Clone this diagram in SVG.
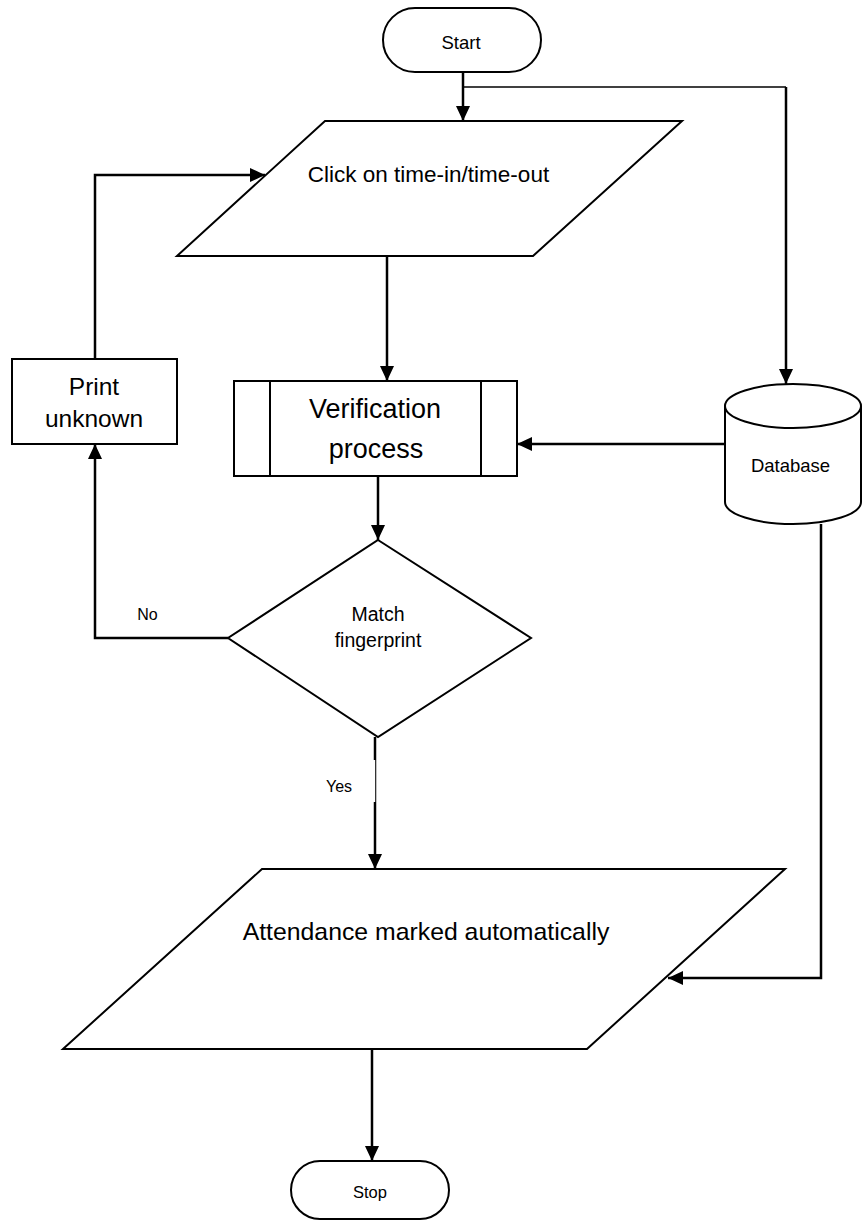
<svg xmlns="http://www.w3.org/2000/svg" width="863" height="1222" viewBox="0 0 863 1222">
  <defs>
    <marker id="arrow" markerUnits="userSpaceOnUse" markerWidth="15" markerHeight="14" refX="15" refY="7" orient="auto">
      <path d="M0,0 L15,7 L0,14 z" fill="#000"/>
    </marker>
    <style>
      .shape { fill: #fff; stroke: #000; stroke-width: 2; }
      .line { fill: none; stroke: #000; stroke-width: 2.5; }
      .thin { fill: none; stroke: #000; stroke-width: 1.5; }
      .lbl { font-family: "Liberation Sans", Arial, sans-serif; fill: #000; text-anchor: middle; }
    </style>
  </defs>
  <rect width="863" height="1222" fill="#fff"/>

  <!-- connectors -->
  <g id="connectors">
    <path class="line" d="M463,72 V121" marker-end="url(#arrow)"/>
    <path class="thin" d="M463,87 H786"/>
    <path class="line" d="M786,87 V384" marker-end="url(#arrow)"/>
    <path class="line" d="M387,256 V381" marker-end="url(#arrow)"/>
    <path class="line" d="M378,476 V540" marker-end="url(#arrow)"/>
    <path class="line" d="M725,444 H517" marker-end="url(#arrow)"/>
    <path class="line" d="M228,638 H95 V444" marker-end="url(#arrow)"/>
    <path class="line" d="M95,359 V175 H265" marker-end="url(#arrow)"/>
    <path class="line" d="M375,737 V869" marker-end="url(#arrow)"/>
    <rect x="372" y="760" width="3.2" height="42" fill="#fff"/>
    <path class="line" d="M821,524 V978 H668" marker-end="url(#arrow)"/>
    <path class="line" d="M372,1049 V1161" marker-end="url(#arrow)"/>
    <text class="lbl" x="147.5" y="620" font-size="16">No</text>
    <text class="lbl" x="339" y="792" font-size="16">Yes</text>
  </g>

  <g id="start">
    <rect class="shape" x="383" y="8" width="158" height="64" rx="32" ry="32"/>
    <text class="lbl" x="461" y="49" font-size="18.5">Start</text>
  </g>

  <g id="click">
    <polygon class="shape" points="325,121 682,121 533,256 177,256"/>
    <text class="lbl" x="428.5" y="182" font-size="22.5">Click on time-in/time-out</text>
  </g>

  <g id="verification">
    <rect class="shape" x="234" y="381" width="283" height="95"/>
    <line x1="270" y1="381" x2="270" y2="476" stroke="#000" stroke-width="2"/>
    <line x1="481" y1="381" x2="481" y2="476" stroke="#000" stroke-width="2"/>
    <text class="lbl" x="375" y="418" font-size="27">Verification</text>
    <text class="lbl" x="376" y="458" font-size="27">process</text>
  </g>

  <g id="print-unknown">
    <rect class="shape" x="12" y="359" width="165" height="85"/>
    <text class="lbl" x="94" y="395" font-size="24.5">Print</text>
    <text class="lbl" x="94" y="427" font-size="24.5">unknown</text>
  </g>

  <g id="database">
    <path class="shape" d="M725,406 V502 A68,22 0 0 0 861,502 V406"/>
    <ellipse class="shape" cx="793" cy="406" rx="68" ry="22"/>
    <text class="lbl" x="790.5" y="472" font-size="18.5">Database</text>
  </g>

  <g id="match">
    <polygon class="shape" points="378,540 531,638 378,737 228,638"/>
    <text class="lbl" x="378" y="621" font-size="19.5">Match</text>
    <text class="lbl" x="378" y="647" font-size="19.5">fingerprint</text>
  </g>

  <g id="attendance">
    <polygon class="shape" points="262,869 785,869 587,1049 63,1049"/>
    <text class="lbl" x="426" y="940" font-size="24.8">Attendance marked automatically</text>
  </g>

  <g id="stop">
    <rect class="shape" x="291" y="1161" width="158" height="58" rx="29" ry="29"/>
    <text class="lbl" x="370" y="1198" font-size="16.5">Stop</text>
  </g>
</svg>
